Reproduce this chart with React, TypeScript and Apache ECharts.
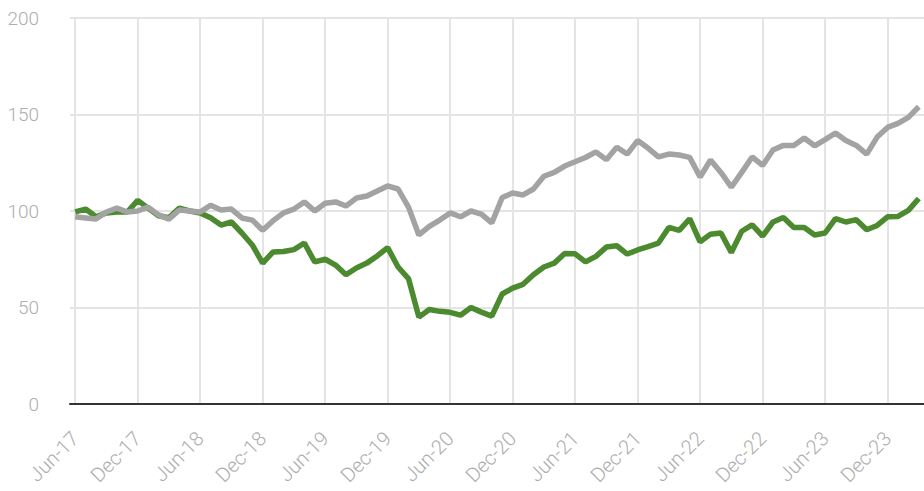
import React, { useEffect, useRef } from "react";
import * as echarts from "echarts";

const categories = [
  "Jun-17","Jul-17","Aug-17","Sep-17","Oct-17","Nov-17","Dec-17",
  "Jan-18","Feb-18","Mar-18","Apr-18","May-18","Jun-18","Jul-18","Aug-18","Sep-18","Oct-18","Nov-18","Dec-18",
  "Jan-19","Feb-19","Mar-19","Apr-19","May-19","Jun-19","Jul-19","Aug-19","Sep-19","Oct-19","Nov-19","Dec-19",
  "Jan-20","Feb-20","Mar-20","Apr-20","May-20","Jun-20","Jul-20","Aug-20","Sep-20","Oct-20","Nov-20","Dec-20",
  "Jan-21","Feb-21","Mar-21","Apr-21","May-21","Jun-21","Jul-21","Aug-21","Sep-21","Oct-21","Nov-21","Dec-21",
  "Jan-22","Feb-22","Mar-22","Apr-22","May-22","Jun-22","Jul-22","Aug-22","Sep-22","Oct-22","Nov-22","Dec-22",
  "Jan-23","Feb-23","Mar-23","Apr-23","May-23","Jun-23","Jul-23","Aug-23","Sep-23","Oct-23","Nov-23","Dec-23",
  "Jan-24","Feb-24","Mar-24",
];

const greenSeries = [
  99.5, 101, 97, 99, 99.5, 99.5, 105.5,
  101.5, 97.5, 96.5, 101.5, 100, 99, 96.5, 92.7, 94.3, 88.6, 82.4, 73,
  78.8, 79, 80, 83.4, 73.6, 75, 72, 67, 70.5, 73, 76.7, 81,
  71, 65, 45, 49, 48, 47.5, 46, 50, 47.6, 45.5, 57, 60,
  62, 67, 71, 73, 78, 77.8, 73.6, 76.5, 81.3, 82, 77.7, 79.8,
  81.5, 83.4, 91.5, 90, 96, 84, 88, 88.6, 78.5, 89.5, 92.8, 87,
  94.3, 96.6, 91.5, 91.5, 87.6, 88.6, 96, 94.3, 95.5, 90.3, 92.5, 97,
  97.2, 100.3, 106.5,
];

const graySeries = [
  97, 96.4, 95.8, 99.5, 101.5, 99.5, 100,
  102, 98, 95.8, 100.5, 100, 99.5, 103, 100.5, 101, 96.4, 95.3, 90,
  95, 99, 101, 104.7, 100, 104, 104.7, 102.6, 106.7, 107.8, 110.4, 113,
  111.4, 102, 87.6, 92, 95.3, 99, 97, 100, 98.4, 93.8, 107, 109.3,
  108.3, 111.4, 118, 120, 123.3, 125.5, 127.7, 130.6, 126.6, 133, 129.5, 136.5,
  132.6, 128, 129.5, 129, 127.8, 117.6, 126.4, 120, 112.4, 120, 128, 123.6,
  131.6, 134, 134, 137.8, 133.8, 137, 140.4, 136.5, 134, 129.5, 138.3, 143.3,
  145.4, 148.5, 154,
];

const yTicks = [0, 50, 100, 150, 200];

export default function App() {
  const ref = useRef<HTMLDivElement>(null);
  useEffect(() => {
    if (!ref.current) return;
    const chart = echarts.init(ref.current, null, { renderer: "svg" });
    const font = "Roboto";
    chart.setOption({
      animation: false,
      grid: { left: 70, right: -6, top: 18, bottom: 87, containLabel: false },
      xAxis: {
        type: "category",
        data: categories,
        boundaryGap: true,
        axisLine: { show: true, lineStyle: { color: "#333", width: 2 } },
        axisTick: { show: false },
        splitLine: {
          show: true,
          interval: 5,
          alignWithLabel: true,
          lineStyle: { color: "#e4e4e4", width: 2 },
        },
        axisLabel: {
          interval: 5,
          rotate: 45,
          margin: 31,
          color: "#adadad",
          fontSize: 20,
          fontFamily: font,
          fontWeight: 300,
        },
      },
      yAxis: {
        type: "value",
        min: yTicks[0],
        max: yTicks[yTicks.length - 1],
        interval: 50,
        axisLine: { show: false },
        axisTick: { show: false },
        splitLine: { show: true, lineStyle: { color: "#e4e4e4", width: 2 } },
        axisLabel: {
          margin: 31,
          color: "#adadad",
          fontSize: 19,
          fontFamily: font,
          fontWeight: 300,
        },
      },
      series: [
        {
          type: "line",
          data: greenSeries,
          symbol: "none",
          lineStyle: { color: "#4b8a2e", width: 5.5 },
          z: 2,
        },
        {
          type: "line",
          data: graySeries,
          symbol: "none",
          lineStyle: { color: "#a3a3a3", width: 5.5 },
          z: 3,
        },
      ],
    });
    return () => chart.dispose();
  }, []);
  return (
    <div
      ref={ref}
      style={{ position: "fixed", left: 0, top: 0, width: 924, height: 491, background: "#fff" }}
    />
  );
}
